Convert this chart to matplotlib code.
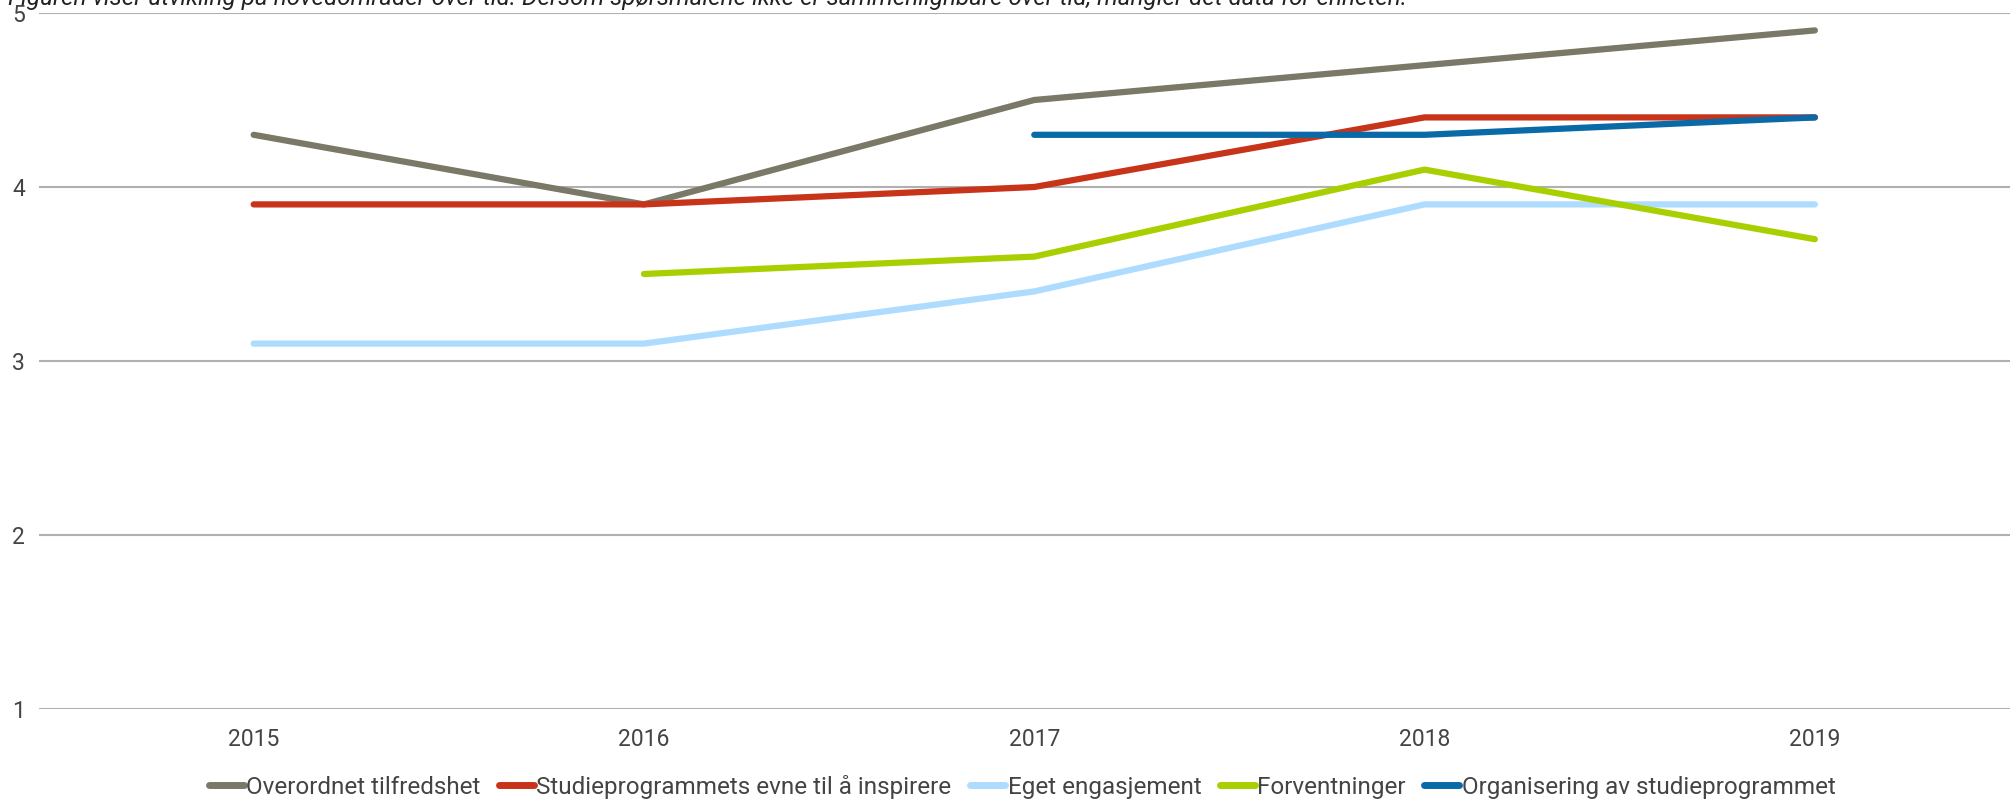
import matplotlib
matplotlib.use("Agg")
import matplotlib.pyplot as plt
import numpy as np

plt.rcParams['font.family'] = ['Roboto', 'DejaVu Sans']

years = ["2015", "2016", "2017", "2018", "2019"]
overordnet = [4.3, 3.9, 4.5, 4.7, 4.9]
studie = [3.9, 3.9, 4.0, 4.4, 4.4]
eget = [3.1, 3.1, 3.4, 3.9, 3.9]
forventninger = [np.nan, 3.5, 3.6, 4.1, 3.7]
organisering = [np.nan, np.nan, 4.3, 4.3, 4.4]

series = [
    ("Overordnet tilfredshet", overordnet, "#7a7866"),
    ("Studieprogrammets evne til å inspirere", studie, "#c8341a"),
    ("Eget engasjement", eget, "#aedcff"),
    ("Forventninger", forventninger, "#a8d000"),
    ("Organisering av studieprogrammet", organisering, "#0a6aa8"),
]
title = ("Figuren viser utvikling på hovedområder over tid. Dersom spørsmålene ikke er "
         "sammenlignbare over tid, mangler det data for enheten.")

fig = plt.figure(figsize=(20.1, 8.02), dpi=100)
ax = fig.add_axes([39/2010, 1 - 709/802, (2010-39)/2010, (709-13)/802])

x = np.arange(len(years))
for name, vals, col in series:
    ax.plot(x, vals, color=col, lw=4.5, label=name, solid_capstyle='round', solid_joinstyle='round')

ax.set_xlim(-0.55, 4.5)
ax.set_ylim(1, 5)
ax.set_yticks([1, 2, 3, 4, 5])
ax.set_xticks(x)
ax.set_xticklabels(years)
ax.grid(axis='y', color='#b0b0b0', lw=1.5)
ax.set_axisbelow(True)
for s in ax.spines.values():
    s.set_visible(False)
ax.tick_params(axis='both', length=0, labelsize=16.5, colors='#444444')
ax.tick_params(axis='y', pad=10)
ax.tick_params(axis='x', pad=14)

fig.text(0.004, 1.003, title, fontsize=17.5, style='italic', color='#222222', va='center', ha='left')

leg = fig.legend(loc='center', bbox_to_anchor=(1022/2010, 1 - 787/802), ncol=5, frameon=False,
                 fontsize=17.5, handlelength=1.45, handletextpad=0.1, columnspacing=0.75)
for t in leg.get_texts():
    t.set_color('#444444')
for h in leg.get_lines():
    h.set_linewidth(5)

fig.savefig("out.png", dpi=100)
